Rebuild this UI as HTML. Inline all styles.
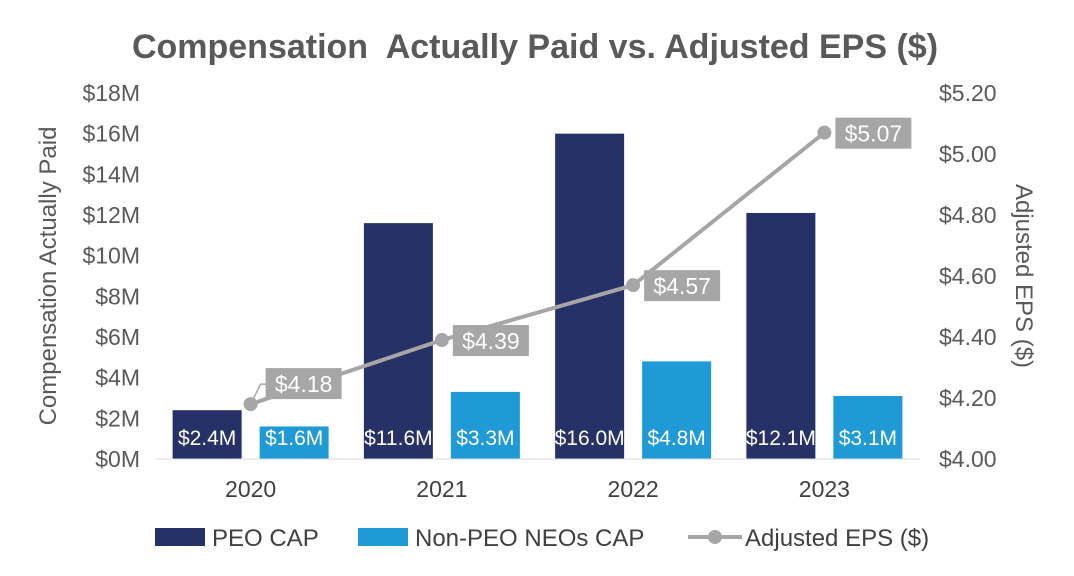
<!DOCTYPE html>
<html><head><meta charset="utf-8"><style>
body{margin:0;background:#fff;}
svg{display:block;font-family:"Liberation Sans",Arial,sans-serif;}
</style></head><body>
<svg id="chart" width="1074" height="576" viewBox="0 0 1074 576">
<text x="535" y="58" text-anchor="middle" font-size="34" font-weight="bold" fill="#595959">Compensation&#160; Actually Paid vs. Adjusted EPS ($)</text>
<g id="leftAxis"></g>
<g id="rightAxis"></g>
<g id="bars"></g>
<g id="line"></g>
<g id="xAxis"></g>
<text transform="translate(56,276) rotate(-90)" text-anchor="middle" font-size="24" fill="#595959">Compensation Actually Paid</text>
<text transform="translate(1016,276) rotate(90)" text-anchor="middle" font-size="24" fill="#595959">Adjusted EPS ($)</text>
<g>
<rect x="155" y="528" width="50" height="18" fill="#253167"/>
<text x="212" y="546" font-size="24" fill="#404040">PEO CAP</text>
<rect x="358" y="528" width="50" height="18" fill="#1f9ad6"/>
<text x="415" y="546" font-size="24" fill="#404040">Non-PEO NEOs CAP</text>
<line x1="688" y1="537" x2="742" y2="537" stroke="#a6a6a6" stroke-width="4"/>
<circle cx="715" cy="537" r="7" fill="#a6a6a6"/>
<text x="745" y="546" font-size="24" fill="#404040">Adjusted EPS ($)</text>
</g>
</svg>
<script>
const years=["2020","2021","2022","2023"];
const peoCap=[2.4,11.6,16.0,12.1];
const nonPeoCap=[1.6,3.3,4.8,3.1];
const eps=[4.18,4.39,4.57,5.07];
const leftTicks=[0,2,4,6,8,10,12,14,16,18];
const rightTicks=[4.0,4.2,4.4,4.6,4.8,5.0,5.2];
const NS="http://www.w3.org/2000/svg";
const y0=459,y1=93,xL=155,xR=920;
const yL=v=>y0-(v/18)*(y0-y1);
const yR=v=>y0-((v-4)/1.2)*(y0-y1);
const step=(xR-xL)/years.length;
const xC=i=>xL+step*(i+0.5);
function mk(tag,attrs,parent,text){const e=document.createElementNS(NS,tag);for(const k in attrs)e.setAttribute(k,attrs[k]);if(text!==undefined)e.textContent=text;document.getElementById(parent).appendChild(e);return e;}
leftTicks.forEach(t=>{const e=mk("text",{x:140,y:yL(t)+8,"text-anchor":"end","font-size":23,fill:"#595959"},"leftAxis","$"+t+"M");

});
rightTicks.forEach(t=>{const e=mk("text",{x:939,y:yR(t)+8,"font-size":23,fill:"#595959"},"rightAxis","$"+t.toFixed(2));

});
const bw=69,gap=18;
years.forEach((yr,i)=>{
 const c=xC(i);
 [[peoCap[i],"#253167",c-gap/2-bw,"peo"],[nonPeoCap[i],"#1f9ad6",c+gap/2,"non-peo"]].forEach(([v,col,x,n])=>{
  const r=mk("rect",{x:x,y:yL(v),width:bw,height:y0-yL(v),fill:col},"bars");
  
  
  const t=mk("text",{x:x+bw/2,y:445,"text-anchor":"middle","font-size":21,fill:"#fff"},"bars","$"+v.toFixed(1)+"M");
  
  
 });
 const xl=mk("text",{x:c,y:497,"text-anchor":"middle","font-size":23,fill:"#404040"},"xAxis",yr);
 
 
});
const ax=mk("line",{x1:xL,y1:y0,x2:xR,y2:y0,stroke:"#d9d9d9","stroke-width":1},"xAxis");


const pl=mk("polyline",{points:eps.map((v,i)=>xC(i)+","+yR(v)).join(" "),fill:"none",stroke:"#a6a6a6","stroke-width":4},"line");


eps.forEach((v,i)=>{
 const x=xC(i),y=yR(v);
 const c=mk("circle",{cx:x,cy:y,r:7,fill:"#a6a6a6"},"line");
 
 
 const bx=x+(i===0?15:11),by=y-(i===0?36:15);
 if(i===0){const l=mk("polyline",{points:(x+3)+","+(y-6)+" "+(x+10)+","+(by+16)+" "+bx+","+(by+16),fill:"none",stroke:"#a6a6a6","stroke-width":1.5},"line");
  
  }
 const b=mk("rect",{x:bx,y:by,width:76,height:31,fill:"#a6a6a6"},"line");
 
 
 const t=mk("text",{x:bx+38,y:by+24,"text-anchor":"middle","font-size":23,fill:"#fff"},"line","$"+v.toFixed(2));
 
 
});
</script>
</body></html>
